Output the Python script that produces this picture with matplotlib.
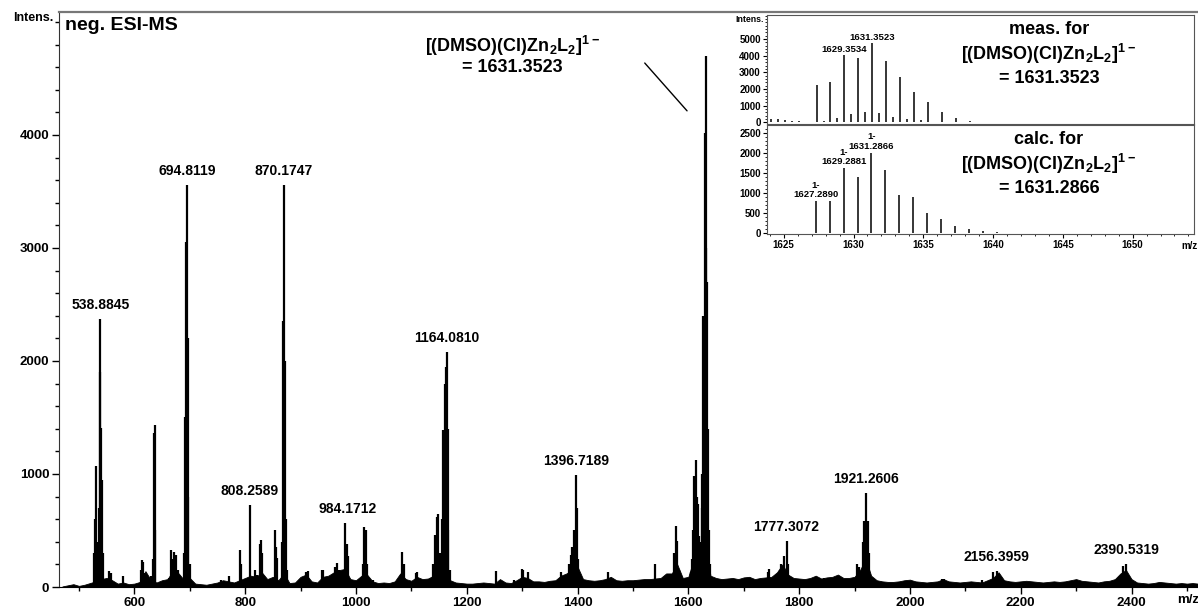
import numpy as np
import matplotlib
matplotlib.use("Agg")
import matplotlib.pyplot as plt
from matplotlib.ticker import MultipleLocator

plt.rcParams['font.family'] = ['Liberation Sans', 'DejaVu Sans']
plt.rcParams['font.weight'] = 'bold'
plt.rcParams['mathtext.fontset'] = 'custom'
plt.rcParams['mathtext.rm'] = 'Liberation Sans:bold'
plt.rcParams['mathtext.bf'] = 'Liberation Sans:bold'
plt.rcParams['mathtext.default'] = 'rm'

#### main spectrum ###############################
# baseline intensity every 10 m/z, starting at 470
noise_mz = np.arange(470, 2521, 10)
noise_int = [5, 15, 25, 10, 20, 35, 50, 70, 80, 60,          # 470-560
             30, 40, 25, 30, 45, 140, 60, 40, 60, 70,        # 570-660
             150, 120, 60, 80, 30, 25, 20, 30, 40, 60,       # 670-760
             50, 40, 60, 80, 100, 90, 130, 70, 90, 60,       # 770-860
             120, 35, 40, 90, 110, 50, 40, 90, 100, 130,     # 870-960
             150, 160, 70, 60, 100, 110, 50, 35, 40, 35,     # 970-1060
             50, 120, 70, 55, 90, 70, 75, 100, 200, 180,     # 1070-1160
             60, 40, 35, 30, 30, 35, 40, 35, 30, 70,         # 1170-1260
             40, 35, 60, 90, 80, 50, 50, 45, 55, 60,         # 1270-1360
             100, 120, 150, 180, 70, 60, 55, 60, 70, 90,     # 1370-1460
             60, 55, 60, 60, 65, 70, 70, 75, 80, 120,        # 1470-1560
             120, 200, 80, 90, 250, 300, 400, 100, 80, 70,   # 1570-1660
             75, 80, 70, 85, 90, 70, 80, 85, 90, 130,        # 1670-1760
             200, 110, 80, 75, 70, 80, 100, 75, 85, 90,      # 1770-1860
             110, 80, 80, 90, 150, 250, 100, 60, 50, 45,     # 1870-1960
             45, 50, 60, 65, 50, 45, 40, 45, 50, 70,         # 1970-2060
             50, 45, 40, 45, 50, 45, 40, 60, 80, 130,        # 2070-2160
             60, 50, 45, 50, 55, 50, 45, 40, 45, 50,         # 2170-2260
             45, 50, 60, 70, 55, 50, 45, 40, 50, 55,         # 2270-2360
             70, 120, 150, 70, 40, 35, 30, 35, 45, 40,       # 2370-2460
             35, 30, 35, 30, 35, 30]                         # 2470-2520

peak_mz = [527, 529, 531, 533, 536, 537.9, 538.9, 540, 541.5, 543, 555, 557, 580,
           612, 614, 616, 618, 630, 633, 635, 636.5, 638,
           663, 667, 670, 672, 675, 678,
           690, 692, 693.3, 694.8, 696, 697.5, 700,
           757, 770, 790, 792, 808.3, 818, 822, 826, 828, 831, 853, 856, 858,
           866, 868.5, 870.2, 871.5, 873, 876,
           910, 913, 938, 941, 962, 966, 970, 980.5, 984.2, 986, 1012, 1015, 1018, 1020, 1030,
           1083, 1086, 1108, 1111,
           1140, 1143, 1146, 1148, 1151,
           1156, 1158, 1160, 1162, 1164.1, 1165.5, 1167, 1170,
           1253, 1285, 1299, 1302, 1310, 1370,
           1385, 1388, 1390, 1393, 1396.7, 1398.5, 1401, 1455,
           1540, 1574, 1577, 1580, 1583, 1604,
           1606, 1609, 1611, 1614, 1616, 1618, 1620,
           1622, 1624, 1625.5, 1627.3, 1629.3, 1631.35, 1632.5, 1633.5, 1635.3, 1637, 1640,
           1743, 1746, 1765, 1768, 1772, 1777.3, 1780, 1845, 1870,
           1905, 1908, 1915, 1918, 1921.3, 1923.5, 1926,
           2058, 2062, 2130, 2150, 2156.4, 2159,
           2300, 2380, 2385, 2390.5, 2393, 2452]
peak_int = [300, 600, 1071, 400, 700, 1900, 2370, 1405, 950, 300, 140, 120, 100,
            150, 235, 220, 120, 100, 250, 1360, 1435, 500,
            80, 330, 250, 310, 280, 150,
            300, 1500, 3050, 3560, 2200, 800, 200,
            60, 100, 325, 200, 730, 150, 110, 380, 420, 300, 500, 350, 260,
            400, 2350, 3560, 2000, 600, 150,
            130, 140, 150, 150, 180, 210, 150, 570, 380, 270, 200, 530, 500, 200, 60,
            310, 200, 120, 130,
            200, 460, 620, 650, 300,
            600, 1390, 1800, 1950, 2080, 1400, 500, 150,
            140, 60, 155, 150, 130, 130,
            200, 280, 355, 500, 995, 700, 250, 130,
            200, 300, 540, 410, 150, 130,
            250, 500, 985, 1125, 800, 735, 450,
            400, 700, 1000, 2400, 4020, 4700, 3000, 2700, 1400, 500, 200,
            130, 155, 150, 200, 275, 407, 200, 80, 70,
            200, 180, 400, 585, 830, 585, 300,
            75, 70, 60, 130, 140, 70,
            55, 100, 185, 205, 80, 25]

label_mz = [538.8845, 694.8119, 808.2589, 870.1747, 984.1712, 1164.0810,
            1396.7189, 1777.3072, 1921.2606, 2156.3959, 2390.5319]
label_int = [2370, 3560, 730, 3560, 570, 2080, 995, 407, 830, 140, 205]

#### inset: measured / calculated isotope pattern ###
meas_mz = [1624.1, 1624.6, 1625.1, 1625.6, 1626.1, 1627.35, 1627.85, 1628.35, 1628.85,
           1629.35, 1629.85, 1630.35, 1630.85, 1631.35, 1631.85, 1632.35, 1632.85,
           1633.35, 1633.85, 1634.35, 1634.85, 1635.35, 1636.35, 1637.35, 1638.35]
meas_int = [190, 180, 150, 110, 60, 2250, 60, 2400, 250,
            4050, 480, 3850, 600, 4750, 560, 3700, 320,
            2750, 200, 1800, 120, 1250, 640, 250, 80]
meas_label_mz = [1629.3534, 1631.3523]
meas_label_int = [4050, 4750]

calc_mz = [1627.289, 1628.29, 1629.288, 1630.29, 1631.287, 1632.29, 1633.29,
           1634.29, 1635.29, 1636.29, 1637.29, 1638.29, 1639.29, 1640.29]
calc_int = [780, 790, 1615, 1380, 2000, 1575, 945, 890, 490, 350, 165, 100, 30, 10]
calc_label_mz = [1627.2890, 1629.2881, 1631.2866]
calc_label_int = [780, 1615, 2000]

formula = r'[(DMSO)(Cl)Zn$_2$L$_2$]$^{1-}$'
###############################################

W, H = 1198, 607
fig = plt.figure(figsize=(W / 100, H / 100), dpi=100)

ax = fig.add_axes([59 / W, 20 / H, (W - 59) / W, 575 / H])
ax.fill_between(noise_mz, 0, noise_int, color='black', lw=0.6)
ax.vlines(peak_mz, 0, peak_int, color='black', lw=1.6)
ax.set_xlim(464, 2520)
ax.set_ylim(0, 5088)
ax.set_xticks(np.arange(600, 2401, 200))
ax.xaxis.set_minor_locator(MultipleLocator(100))
ax.set_yticks([0, 1000, 2000, 3000, 4000])
ax.yaxis.set_minor_locator(MultipleLocator(200))
ax.tick_params(which='major', length=5, width=1, labelsize=9.5, pad=2)
ax.tick_params(which='minor', length=3, width=1)
for lab in ax.get_xticklabels() + ax.get_yticklabels():
    lab.set_fontweight('bold')
ax.spines['right'].set_visible(False)
ax.spines['top'].set_color('#777777')
ax.spines['top'].set_linewidth(1.6)
ax.spines['left'].set_color('#333333')

for mz, h in zip(label_mz, label_int):
    ax.text(mz, h + 60, f"{mz:.4f}", ha='center', va='bottom', fontsize=10, fontweight='bold')

fig.text(53 / W, 1 - 18 / H, 'Intens.', ha='right', va='center', fontsize=9, fontweight='bold')
fig.text(65 / W, 1 - 25 / H, 'neg. ESI-MS', ha='left', va='center', fontsize=14, fontweight='bold')
fig.text(1188 / W, 1 - 600 / H, 'm/z', ha='center', va='center', fontsize=9.5, fontweight='bold')

ax.text(1283, 4788, formula, ha='center', va='center', fontsize=13)
ax.text(1283, 4600, '= 1631.3523', ha='center', va='center', fontsize=13, fontweight='bold')
ax.annotate('', xy=(1601, 4195), xytext=(1518, 4655),
            arrowprops=dict(arrowstyle='-', color='black', lw=1))

# insets
x0, x1 = 767 / W, 1194 / W
axm = fig.add_axes([x0, 1 - 124 / H, x1 - x0, 109 / H])
axc = fig.add_axes([x0, 1 - 234 / H, x1 - x0, 109 / H])
for a in (axm, axc):
    a.set_facecolor('white')
    a.set_xlim(1623.8, 1654.4)
    for s in a.spines.values():
        s.set_color('#555555')
    a.tick_params(which='major', length=3, width=0.8, labelsize=7, pad=1.5)
    a.tick_params(which='minor', length=1.5, width=0.6)

axm.vlines(meas_mz, 0, meas_int, color='black', lw=1.1)
axm.set_ylim(-100, 6450)
axm.set_yticks([0, 1000, 2000, 3000, 4000, 5000])
axm.yaxis.set_minor_locator(MultipleLocator(200))
axm.set_xticks([])
for mz, h in zip(meas_label_mz, meas_label_int):
    axm.text(mz, h + 60, f"{mz:.4f}", ha='center', va='bottom', fontsize=6.8, fontweight='bold')
axm.text(0.66, 0.87, 'meas. for', transform=axm.transAxes, ha='center', va='center', fontsize=13)
axm.text(0.66, 0.64, formula, transform=axm.transAxes, ha='center', va='center', fontsize=13)
axm.text(0.66, 0.42, '= 1631.3523', transform=axm.transAxes, ha='center', va='center', fontsize=13)

axc.vlines(calc_mz, 0, calc_int, color='black', lw=1.1)
axc.set_ylim(-35, 2690)
axc.set_yticks([0, 500, 1000, 1500, 2000, 2500])
axc.yaxis.set_minor_locator(MultipleLocator(100))
axc.set_xticks(np.arange(1625, 1651, 5))
axc.xaxis.set_minor_locator(MultipleLocator(1))
for mz, h in zip(calc_label_mz, calc_label_int):
    axc.text(mz, h + 50, f"1-\n{mz:.4f}", ha='center', va='bottom', fontsize=6.8,
             fontweight='bold', linespacing=1.05)
axc.text(0.66, 0.87, 'calc. for', transform=axc.transAxes, ha='center', va='center', fontsize=13)
axc.text(0.66, 0.64, formula, transform=axc.transAxes, ha='center', va='center', fontsize=13)
axc.text(0.66, 0.42, '= 1631.2866', transform=axc.transAxes, ha='center', va='center', fontsize=13)
for a in (axm, axc):
    for lab in a.get_xticklabels() + a.get_yticklabels():
        lab.set_fontweight('bold')

fig.text(764 / W, 1 - 19 / H, 'Intens.', ha='right', va='center', fontsize=6.3, fontweight='bold')
fig.text(1190 / W, 1 - 246 / H, 'm/z', ha='center', va='center', fontsize=7, fontweight='bold')

fig.savefig('out.png', dpi=100)
